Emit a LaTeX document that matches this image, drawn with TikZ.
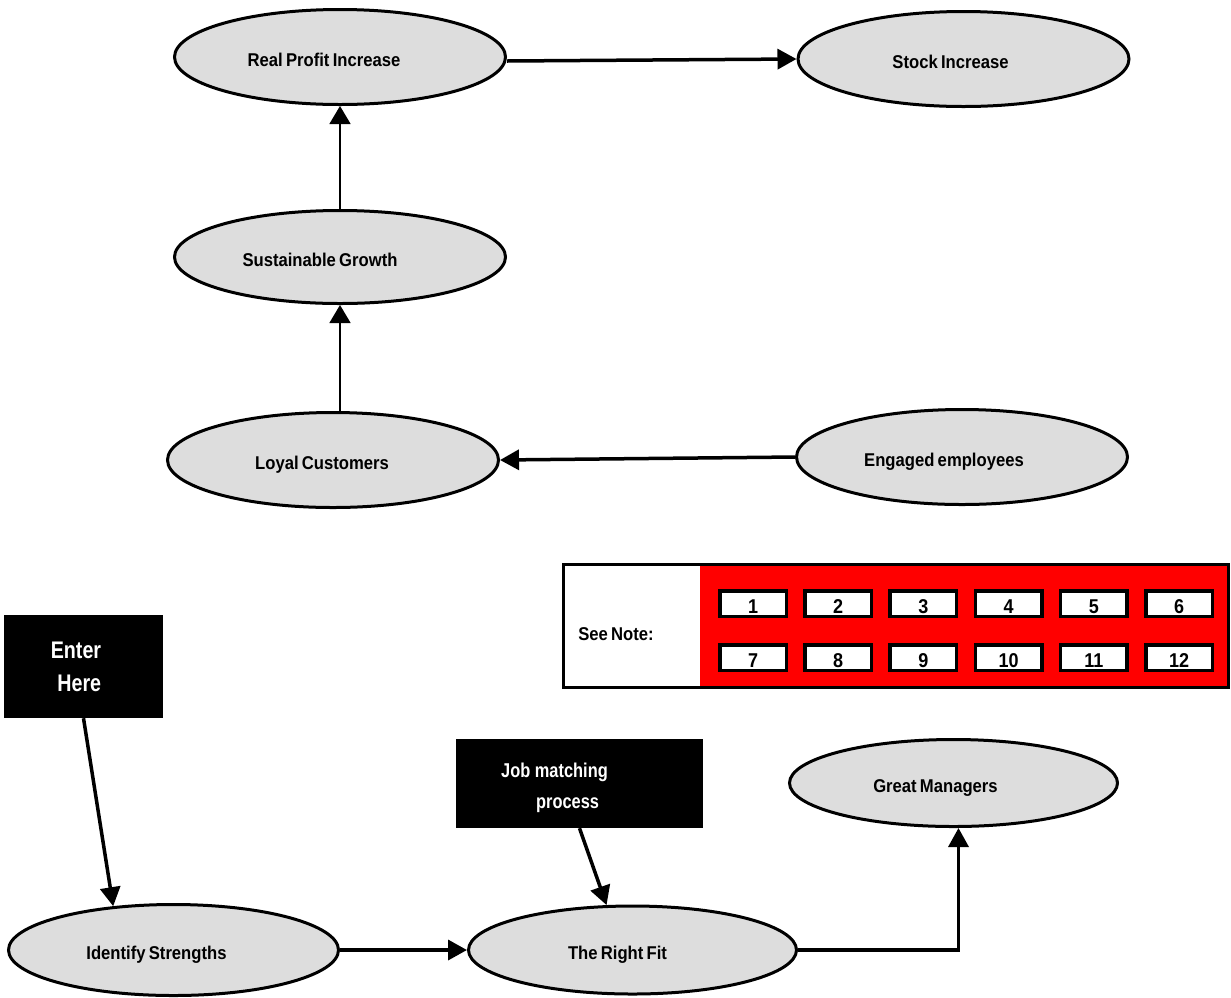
\documentclass[tikz,border=0pt]{standalone}
\usepackage{fontspec}
\newfontfamily\lblf{Liberation Sans Bold}[FakeStretch=0.9, WordSpace=0.7]
\newfontfamily\boxf{Liberation Sans Bold}[FakeStretch=0.82]
\usetikzlibrary{shapes.geometric, arrows.meta}
\definecolor{ellfill}{HTML}{DDDDDD}
\begin{document}
\begin{tikzpicture}[x=1pt,y=-1pt,
  ell/.style={ellipse, draw, line width=3pt, fill=ellfill, inner sep=0pt,
    minimum width=331pt, minimum height=95pt,
    font=\lblf\fontsize{18.5}{22}\selectfont, text height=22pt, text depth=4pt},
  darkbox/.style={rectangle, fill=black, text=white, inner sep=0pt},
  numbox/.style={rectangle, draw, line width=3.5pt, fill=white,
    minimum width=66.5pt, minimum height=25.5pt, inner sep=0pt,
    font=\lblf\fontsize{20}{24}\selectfont, text height=19pt, text depth=0pt},
  conn/.style={line width=3.5pt, -{Triangle[length=19pt,width=20pt]}},
  connthin/.style={line width=1.5pt, -{Triangle[length=18pt,width=21pt]}},
]
\useasboundingbox (0,0) rectangle (1231,997);

% ellipses
\node[ell] (rpi) at (340,57) {Real Profit Increase\kern32pt};
\node[ell] (stock) at (963.5,59) {Stock Increase\kern26pt};
\node[ell, minimum height=93pt] (sg) at (340,257) {Sustainable Growth\kern40pt};
\node[ell] (lc) at (333,460) {Loyal Customers\kern22pt};
\node[ell] (ee) at (962,457) {Engaged employees\kern36pt};
\node[ell, minimum width=328pt, minimum height=87pt] (gm) at (953.5,783) {Great Managers\kern36pt};
\node[ell, minimum width=328pt, minimum height=88pt] (rf) at (632.5,950) {The Right Fit\kern30pt};
\node[ell, minimum width=330pt, minimum height=91pt] (is) at (173.5,950) {Identify Strengths\kern34pt};

% black boxes
\node[darkbox, minimum width=159pt, minimum height=103pt, align=right,
  font=\boxf\fontsize{24}{33}\selectfont] (enter) at (83.5,666.5) {Enter\kern15pt\\Here\kern15pt};
\node[darkbox, minimum width=247pt, minimum height=89pt, align=left,
  font=\boxf\fontsize{20}{31}\selectfont] (job) at (579.5,783.5)
  {\rule{0pt}{22.6pt}Job matching\kern50pt\\\kern35pt process};

% note panel
\fill[red] (700,563) rectangle (1230,689);
\node[draw, line width=3pt, minimum width=665pt, minimum height=123pt, inner sep=0pt] (note) at (896,626) {};
\node[font=\lblf\fontsize{18.5}{22}\selectfont, anchor=base, inner sep=0pt] (seenote) at (616,640) {See Note:};
\foreach \i [count=\k from 0] in {1,...,6} {
  \node[numbox] (n\i) at ({753+85.2*\k},603.5) {\i};
}
\foreach \i [count=\k from 0] in {7,...,12} {
  \node[numbox] (n\i) at ({753+85.2*\k},657.5) {\i};
}

% connectors
\draw[conn] ([yshift=-4pt]rpi.east) -- (stock.west);
\draw[connthin] (sg.north) -- (rpi.south);
\draw[connthin] (lc.north -| sg.south) -- (sg.south);
\draw[conn] (ee.west) -- (lc.east);
\draw[conn] (enter.south) -- (is.144);
\draw[conn] (job.south) -- (rf.120);
\draw[conn] (is.east) -- (rf.west);
\draw[conn] (rf.east) -| ([xshift=5pt]gm.south);
\end{tikzpicture}
\end{document}
